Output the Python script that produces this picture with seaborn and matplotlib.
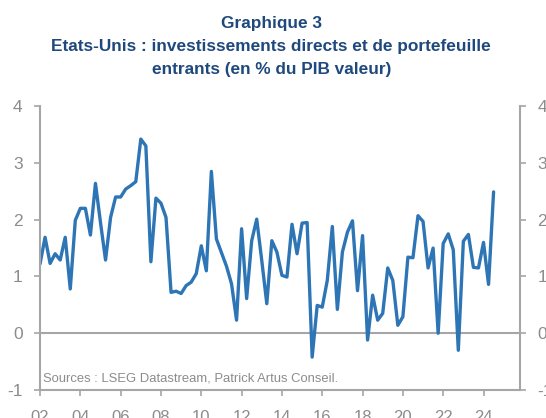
import pandas as pd
import numpy as np
import matplotlib.pyplot as plt
import seaborn as sns

# quarterly series, 2002Q1 onwards (% of GDP)
values = [1.22, 1.69, 1.23, 1.40, 1.29, 1.69, 0.78, 1.99, 2.20, 2.20,
          1.73, 2.64, 1.95, 1.29, 2.04, 2.40, 2.40, 2.54, 2.60, 2.67,
          3.42, 3.30, 1.26, 2.38, 2.29, 2.04, 0.72, 0.74, 0.70, 0.84,
          0.90, 1.05, 1.54, 1.10, 2.85, 1.66, 1.42, 1.18, 0.87, 0.23,
          1.84, 0.61, 1.63, 2.01, 1.28, 0.52, 1.63, 1.43, 1.02, 0.99,
          1.92, 1.40, 1.94, 1.95, -0.42, 0.49, 0.46, 0.93, 1.88, 0.42,
          1.43, 1.78, 1.98, 0.75, 1.72, -0.12, 0.67, 0.23, 0.35, 1.15,
          0.93, 0.14, 0.29, 1.34, 1.33, 2.07, 1.97, 1.15, 1.50, 0.00,
          1.58, 1.75, 1.47, -0.30, 1.62, 1.74, 1.16, 1.15, 1.60, 0.86,
          2.49]
start_quarter = '2002Q1'
tick_years = list(range(2002, 2025, 2))
tick_labels = [f"{y % 100:02d}" for y in tick_years]
y_ticks = [-1, 0, 1, 2, 3, 4]

title = ("Graphique 3\n"
         "Etats-Unis : investissements directs et de portefeuille\n"
         "entrants (en % du PIB valeur)")
source = "Sources : LSEG Datastream, Patrick Artus Conseil."

quarters = pd.period_range(start_quarter, periods=len(values), freq='Q')
df = pd.DataFrame({
    'date': quarters.year + (quarters.quarter - 1) / 4,
    'value': values,
})

sns.set_style('white')
plt.rcParams['font.family'] = ['Liberation Sans', 'DejaVu Sans']
plt.rcParams['axes.unicode_minus'] = False

grey = '#a6a6a6'
txt_grey = '#8c8c8c'
blue = '#2E75B6'

fig = plt.figure(figsize=(5.46, 4.18), dpi=100)
ax = fig.add_axes([0.0733, 0.067, 0.8787, 0.679])

sns.lineplot(data=df, x='date', y='value', color=blue, lw=2.4, ax=ax)
ax.axhline(0, color=grey, lw=1.5, zorder=1)

ax.set_xlim(2002, 2025.8)
ax.set_ylim(-1, 4)
ax.set_xticks(tick_years)
ax.set_xticklabels(tick_labels)
ax.set_yticks(y_ticks)
ax.set_xlabel('')
ax.set_ylabel('')

for side in ['left', 'right', 'bottom']:
    ax.spines[side].set_color(grey)
    ax.spines[side].set_linewidth(1.5)
ax.spines['top'].set_visible(False)

ax.tick_params(axis='both', direction='out', length=4.5, width=1.2,
               color=grey, labelcolor=txt_grey, labelsize=12.5, pad=8)
ax.tick_params(axis='y', left=True, right=True, labelleft=True, labelright=True)
ax.tick_params(axis='x', bottom=True, labelsize=12, pad=10)

ax.text(0.006, 0.02, source, transform=ax.transAxes, color=txt_grey,
        fontsize=9.4, ha='left', va='bottom')

fig.text(0.497, 0.962, title, ha='center', va='top', fontsize=12.4,
         fontweight='bold', color='#1F497D', linespacing=1.68)

fig.savefig('out.png', dpi=100)
